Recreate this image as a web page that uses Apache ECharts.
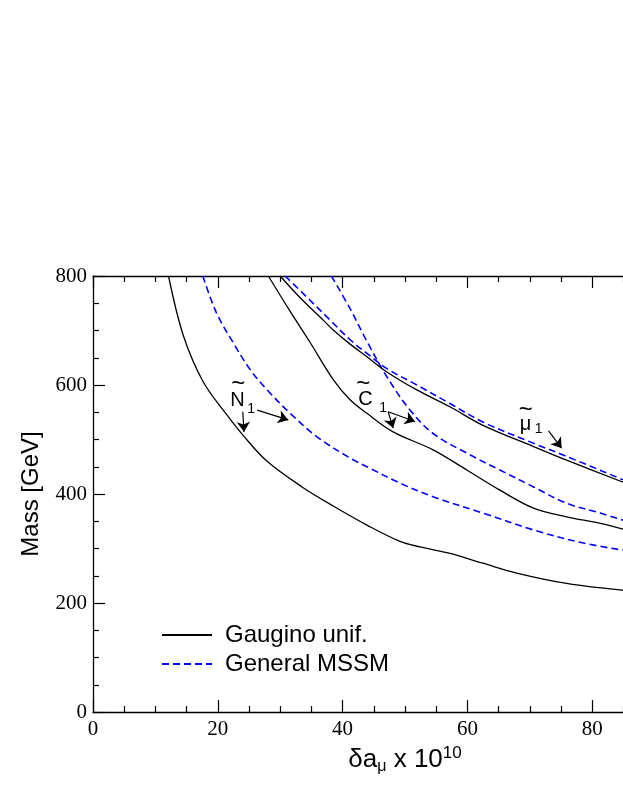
<!DOCTYPE html>
<html>
<head>
<meta charset="utf-8">
<script src="https://cdn.jsdelivr.net/npm/echarts@6/dist/echarts.min.js"></script>
<style>
  html, body { margin: 0; padding: 0; background: #fff; width: 623px; height: 806px; overflow: hidden; }
  /* the plot runs on past the right edge of the page, as in the original figure */
  #chart { width: 717px; height: 806px; }
</style>
</head>
<body>
<div id="chart"></div>
<script>
// curves: [delta a_mu x 1e10, mass GeV]
const gauginoN1 = [[12.1, 800], [14.5, 690], [17.7, 605], [21.4, 546], [24.1, 507], [27.9, 460], [33.5, 413], [38.5, 378], [43.9, 343], [49.2, 313], [52.4, 303], [57.2, 291], [62.5, 273], [67.9, 255], [75.9, 236], [86, 222]]
const generalN1 = [[17.6, 800], [19.8, 732], [22.5, 677], [25.2, 628], [27.9, 591], [31.6, 548], [35.9, 505], [41.2, 466], [43.9, 450], [49.2, 420], [54.5, 395], [62.5, 365], [70.6, 334], [78.6, 310], [86, 295]]
const gauginoC1 = [[28.1, 800], [31.6, 735], [34.8, 678], [38.5, 610], [41.2, 573], [43.9, 548], [48.1, 514], [54.5, 481], [59.9, 444], [65.2, 407], [70.6, 374], [75.9, 358], [81.3, 346], [86, 332]]
const generalC1 = [[38.2, 800], [41.2, 740], [43.9, 680], [47.1, 615], [50.8, 554], [54.5, 511], [59.9, 475], [65.2, 444], [70.6, 413], [75.9, 383], [81.3, 365], [86, 348]]
const gauginoMu = [[30.0, 800], [33.2, 760], [36.9, 719], [38.5, 701], [41.2, 675], [43.9, 652], [47.1, 624], [51.9, 591], [57.2, 560], [62.5, 526], [70.6, 487], [75.9, 462], [86, 417]]
const generalMu = [[30.8, 800], [34.2, 762], [38.0, 719], [41.2, 683], [43.9, 658], [47.1, 630], [51.9, 600], [57.2, 566], [62.5, 532], [70.6, 493], [75.9, 469], [86, 421]]

const legendNames = ['Gaugino unif.', 'General MSSM']

// arrows of the particle labels, in data coordinates [from, to]
const arrows = [
  [[24.0, 551], [24.2, 514]],
  [[26.3, 554], [31.3, 536]],
  [[47.3, 551], [48.1, 521]],
  [[47.3, 551], [51.6, 533]],
  [[73.0, 516], [75.1, 484]],
]

// particle labels: letter, left/baseline in data coordinates
const labels = [
  { text: 'N', coord: [22.0, 561], tildeDx: 8, tildeDy: -22, subDx: 17, subDy: 3 },
  { text: 'C', coord: [42.5, 563], tildeDx: 5, tildeDy: -21, subDx: 21, subDy: 3 },
  { text: 'μ', coord: [68.4, 517], tildeDx: 6, tildeDy: -20, subDx: 15, subDy: -1 },
]

const serif = '"Liberation Serif", "Times New Roman", serif'
const sans = '"Liberation Sans", Arial, Helvetica, sans-serif'

const chart = echarts.init(document.getElementById('chart'))

const tickAxis = {
  axisLine: { lineStyle: { color: '#000', width: 1.3 } },
  axisTick: { inside: true, length: 12, lineStyle: { color: '#000', width: 1.2 } },
  minorTick: { show: true, splitNumber: 4, length: 6, lineStyle: { color: '#000', width: 1.2 } },
  splitLine: { show: false },
  minorSplitLine: { show: false },
}

const solid = { color: '#000', width: 1.3, type: 'solid' }
const dashed = { color: '#0000ff', width: 1.6, type: [7, 4] }

function curve(name, data, lineStyle, extra = {}) {
  return {
    name,
    type: 'line',
    data,
    smooth: 0.35,
    showSymbol: false,
    symbol: 'none',
    lineStyle,
    itemStyle: { color: lineStyle.color },
    clip: true,
    silent: true,
    ...extra,
  }
}

const option = {
  backgroundColor: '#fff',
  animation: false,
  grid: { left: 93, top: 276, bottom: 94, right: 0, containLabel: false, outerBoundsMode: 'none' },
  legend: {
    data: legendNames,
    orient: 'vertical',
    left: 156,
    top: 618,
    itemWidth: 50,
    itemHeight: 14,
    itemGap: 5,
    itemStyle: { color: 'transparent', borderWidth: 0, opacity: 0 },
    textStyle: { fontFamily: sans, fontSize: 24, color: '#000', lineHeight: 22, padding: [0, 0, 0, 8] },
    selectedMode: false,
  },
  xAxis: [
    {
      type: 'value',
      min: 0,
      max: 100,
      interval: 20,
      ...tickAxis,
      axisLabel: { fontFamily: serif, fontSize: 21, color: '#000', margin: 7 },
      name: '{m|δa}{sub|μ}{m| x 10}{sup|10}',
      nameLocation: 'middle',
      nameGap: 31,
      nameTextStyle: {
        rich: {
          m: { fontFamily: sans, fontSize: 26, color: '#000', lineHeight: 30 },
          sub: { fontFamily: sans, fontSize: 16, color: '#000', lineHeight: 14, verticalAlign: 'bottom' },
          sup: { fontFamily: sans, fontSize: 17, color: '#000', lineHeight: 14, verticalAlign: 'top' },
        },
      },
    },
    {
      type: 'value',
      position: 'top',
      min: 0,
      max: 100,
      interval: 20,
      ...tickAxis,
      axisLabel: { show: false },
    },
  ],
  yAxis: {
    type: 'value',
    min: 0,
    max: 800,
    interval: 200,
    ...tickAxis,
    axisLabel: { fontFamily: serif, fontSize: 21, color: '#000', margin: 6 },
    name: 'Mass [GeV]',
    nameLocation: 'middle',
    nameRotate: 90,
    nameGap: 50,
    nameTextStyle: { fontFamily: sans, fontSize: 24, color: '#000' },
  },
  series: [
    curve(legendNames[0], gauginoN1, solid, {
      markLine: {
        silent: true,
        symbol: ['none', 'arrow'],
        symbolSize: 10,
        label: { show: false },
        lineStyle: { color: '#000', width: 1.2, type: 'solid' },
        data: arrows.map(([a, b]) => [{ coord: a }, { coord: b }]),
      },
    }),
    curve(legendNames[1], generalN1, dashed),
    curve(legendNames[0], gauginoC1, solid),
    curve(legendNames[1], generalC1, dashed),
    curve(legendNames[0], gauginoMu, solid),
    curve(legendNames[1], generalMu, dashed),
  ],
}

chart.setOption(option, true)

// particle labels with tilde and subscript
const graphic = []
labels.forEach((l) => {
  const [px, py] = chart.convertToPixel({ gridIndex: 0 }, l.coord)
  graphic.push({
    type: 'text', x: px, y: py - 6, silent: true,
    style: { text: l.text, fontFamily: sans, fontSize: 20, fill: '#000', align: 'left', verticalAlign: 'middle' },
  })
  graphic.push({
    type: 'text', x: px + l.tildeDx, y: py + l.tildeDy, silent: true,
    style: { text: '~', fontFamily: sans, fontSize: 24, fill: '#000', align: 'center', verticalAlign: 'middle' },
  })
  graphic.push({
    type: 'text', x: px + l.subDx, y: py + l.subDy, silent: true,
    style: { text: '1', fontFamily: sans, fontSize: 14, fill: '#000', align: 'left', verticalAlign: 'middle' },
  })
})
chart.setOption({ graphic })
</script>
</body>
</html>
